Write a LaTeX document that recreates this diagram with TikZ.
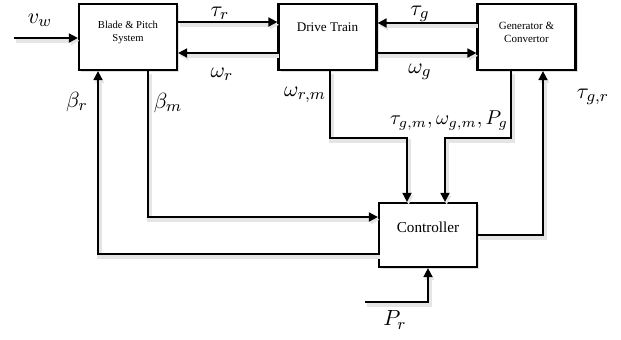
\documentclass[tikz,border=0pt]{standalone}
\usepackage{amsmath,amssymb}
\usepackage{fontspec}
\setmainfont{Liberation Serif}
\usepackage{tikz}
\usetikzlibrary{arrows.meta,shadows}

\begin{document}
\begin{tikzpicture}[
  x=0.5pt,y=-0.5pt,
  blockbox/.style={draw,line width=1.1pt,fill=white,minimum width=49pt,minimum height=33pt,
    align=center,drop shadow={shadow xshift=1.2pt,shadow yshift=-1.2pt,opacity=0.25}},
  sig/.style={line width=0.85pt,
    preaction={draw=black!10,line width=2.2pt,transform canvas={shift={(0.8pt,-1.4pt)}}}},
  arr/.style={sig,-{Triangle[length=4.5pt,width=4.5pt]}},
  lbl/.style={font=\fontsize{10.8}{12}\selectfont,inner sep=1pt}
]
  \useasboundingbox (0,0) rectangle (621,339);
  % plant blocks and controller
  \node[blockbox,font=\fontsize{5.3}{6.3}\selectfont,text depth=5.7pt] (blade) at (128,37) {Blade \& Pitch\\System};
  \node[blockbox,font=\fontsize{6.6}{7.5}\selectfont,text depth=10pt] (drive) at (327.5,37) {Drive Train};
  \node[blockbox,font=\fontsize{5.5}{6.5}\selectfont,text depth=4.5pt] (gen) at (526.5,37) {Generator \&\\Convertor};
  \node[blockbox,font=\fontsize{7.6}{8.5}\selectfont,text depth=8pt,minimum height=32pt] (ctrl) at (428,235) {Controller};

  \coordinate (vin) at (14,38);
  \coordinate (jr) at (407,138);
  \coordinate (jg) at (445,138);
  \coordinate (pin) at (365,302);

  \draw[arr] (vin) -- (vin -| blade.west);
  \draw[arr] ([yshift=7.5pt]blade.east) -- ([yshift=7.5pt]drive.west);
  \draw[arr] ([yshift=-8pt]drive.west) -- ([yshift=-8pt]blade.east);
  \draw[arr] ([yshift=7pt]gen.west) -- ([yshift=7pt]drive.east);
  \draw[arr] ([yshift=-8pt]drive.east) -- ([yshift=-8pt]gen.west);
  \draw[arr] ([yshift=-9.5pt]ctrl.west) -| ([xshift=-15pt]blade.south);
  \draw[arr] ([xshift=10pt]blade.south) |- ([yshift=9pt]ctrl.west);
  \draw[arr] ([xshift=1.25pt]drive.south) |- (jr) -- (jr |- ctrl.north);
  \draw[arr] ([xshift=-7.75pt]gen.south) |- (jg) -- (jg |- ctrl.north);
  \draw[arr] (ctrl.east) -| ([xshift=8.25pt]gen.south);
  \draw[arr] (pin) -| (ctrl.south);

  % signal labels
  \node[lbl] (vw)   at (40,20)   {$v_w$};
  \node[lbl] (taur) at (220,13)  {$\tau_r$};
  \node[lbl] (omr)  at (222,74)  {$\omega_r$};
  \node[lbl] (taug) at (420,14)  {$\tau_g$};
  \node[lbl] (omg)  at (420,72)  {$\omega_g$};
  \node[lbl] (betr) at (77,102)  {$\beta_r$};
  \node[lbl] (betm) at (168,103) {$\beta_m$};
  \node[lbl] (omrm) at (305,95)  {$\omega_{r,m}$};
  \node[lbl,font=\fontsize{9.8}{11}\selectfont] (meas) at (449,121) {$\tau_{g,m},\omega_{g,m},P_g$};
  \node[lbl] (taugr) at (593,97) {$\tau_{g,r}$};
  \node[lbl] (pr)   at (395,320) {$P_r$};
\end{tikzpicture}
\end{document}
